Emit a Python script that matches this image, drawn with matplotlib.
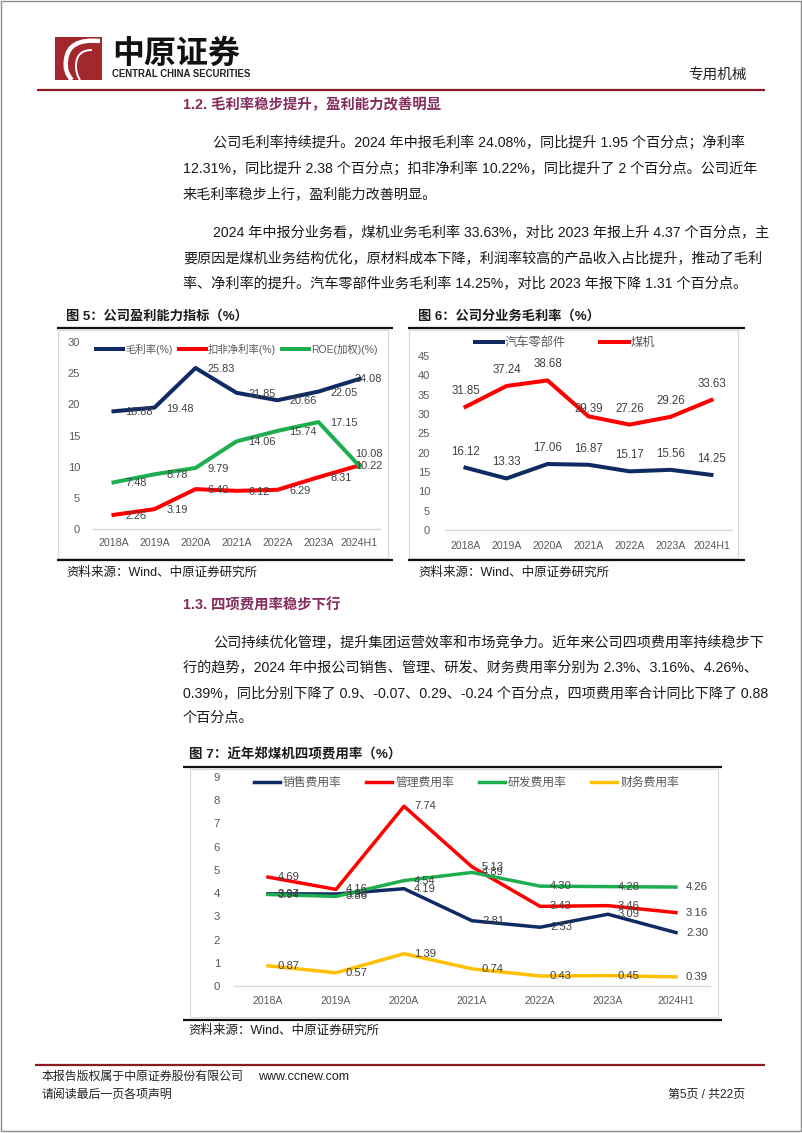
import matplotlib
matplotlib.use('Agg')
import matplotlib.pyplot as plt
from matplotlib.lines import Line2D
from matplotlib.patches import Rectangle, PathPatch
from matplotlib.path import Path

# ---------------- data ----------------
years = ['2018A', '2019A', '2020A', '2021A', '2022A', '2023A', '2024H1']

# Fig 5
gross_margin = [18.88, 19.48, 25.83, 21.85, 20.66, 22.05, 24.08]
net_margin_adj = [2.26, 3.19, 6.40, 6.12, 6.29, 8.31, 10.22]
roe_weighted = [7.48, 8.78, 9.79, 14.06, 15.74, 17.15, 10.08]
fig5_names = ['毛利率(%)', '扣非净利率(%)', 'ROE(加权)(%)']
fig5_yticks = [0, 5, 10, 15, 20, 25, 30]

# Fig 6
auto_parts_margin = [16.12, 13.33, 17.06, 16.87, 15.17, 15.56, 14.25]
coal_machine_margin = [31.85, 37.24, 38.68, 29.39, 27.26, 29.26, 33.63]
fig6_names = ['汽车零部件', '煤机']
fig6_yticks = [0, 5, 10, 15, 20, 25, 30, 35, 40, 45]

# Fig 7
selling_rate = [3.97, 3.96, 4.19, 2.81, 2.53, 3.09, 2.30]
admin_rate = [4.69, 4.16, 7.74, 5.13, 3.43, 3.46, 3.16]
rd_rate = [3.94, 3.86, 4.54, 4.89, 4.30, 4.28, 4.26]
finance_rate = [0.87, 0.57, 1.39, 0.74, 0.43, 0.45, 0.39]
fig7_names = ['销售费用率', '管理费用率', '研发费用率', '财务费用率']
fig7_yticks = [0, 1, 2, 3, 4, 5, 6, 7, 8, 9]

# ---------------- style ----------------
NAVY = '#102A63'
RED = '#FF0000'
GREEN = '#1EAE50'
YELLOW = '#FFC000'
TICK = '#595959'
LABEL = '#404040'
HEAD = '#862D5E'
BODY = '#1A1A1A'
FONT = ['Liberation Sans', 'Noto Sans CJK SC', 'DejaVu Sans']
plt.rcParams['font.family'] = FONT

W, H = 802, 1133
fig = plt.figure(figsize=(W / 100, H / 100), dpi=100)


def fx(x):
    return x / W


def fy(y):
    return 1 - y / H


def txt(x, y, s, size, color=BODY, weight='normal', ha='left', va='center'):
    fig.text(fx(x), fy(y), s, fontsize=size, color=color, fontweight=weight,
             ha=ha, va=va, family=FONT)


def hline(x0, x1, y, color, lw):
    fig.add_artist(Line2D([fx(x0), fx(x1)], [fy(y), fy(y)], color=color, lw=lw,
                          transform=fig.transFigure, solid_capstyle='butt'))


def frame(x0, x1, y0, y1, color='#D9D9D9', lw=0.8):
    fig.add_artist(Rectangle((fx(x0), fy(y1)), (x1 - x0) / W, (y1 - y0) / H,
                             transform=fig.transFigure, fill=False,
                             edgecolor=color, lw=lw))


def make_axes(x0, x1, ytop, ybot):
    return fig.add_axes([fx(x0), fy(ybot), (x1 - x0) / W, (ybot - ytop) / H])


def style_axes(ax, yticks, ypad, xpad, xsize, ysize):
    ax.set_xlim(-0.5, len(years) - 0.5)
    ax.set_ylim(yticks[0], yticks[-1])
    ax.set_xticks(range(len(years)))
    ax.set_xticklabels(years)
    ax.set_yticks(yticks)
    ax.set_yticklabels([str(t) for t in yticks])
    ax.tick_params(length=0, labelcolor=TICK)
    ax.tick_params(axis='x', pad=xpad * 0.72, labelsize=xsize)
    ax.tick_params(axis='y', pad=ypad * 0.72, labelsize=ysize)
    for s in ['top', 'right', 'left']:
        ax.spines[s].set_visible(False)
    ax.spines['bottom'].set_color('#D9D9D9')
    ax.spines['bottom'].set_linewidth(1.0)
    ax.patch.set_alpha(0)


# ---------------- page frame & header ----------------
fig.add_artist(Rectangle((fx(1), fy(1131)), 800 / W, 1130 / H, transform=fig.transFigure,
                         fill=False, edgecolor='#8C8C8C', lw=1.0))

# logo
fig.add_artist(Rectangle((fx(55), fy(80)), 47 / W, 43 / H, transform=fig.transFigure,
                         facecolor='#A3282E', edgecolor='none'))
sw1 = Path([(fx(100), fy(41)), (fx(68), fy(38)), (fx(66), fy(60)), (fx(64), fy(72)), (fx(72), fy(80))],
           [Path.MOVETO, Path.CURVE3, Path.CURVE3, Path.CURVE3, Path.CURVE3])
fig.add_artist(PathPatch(sw1, transform=fig.transFigure, fill=False, edgecolor='white', lw=3.2))
sw2 = Path([(fx(92), fy(50)), (fx(76), fy(50)), (fx(76), fy(66)), (fx(76), fy(74)), (fx(80), fy(80))],
           [Path.MOVETO, Path.CURVE3, Path.CURVE3, Path.CURVE3, Path.CURVE3])
fig.add_artist(PathPatch(sw2, transform=fig.transFigure, fill=False, edgecolor='white', lw=1.4))

txt(112, 55, '中原证券', 23, color='#111111', weight='bold')
txt(112, 74, 'CENTRAL CHINA SECURITIES', 6.9, color='#222222', weight='bold')
txt(747, 75, '专用机械', 10.5, color='#222222', ha='right')
hline(37, 765, 90, '#8B1A22', 1.6)

# ---------------- section 1.2 ----------------
txt(183, 105, '1.2. 毛利率稳步提升，盈利能力改善明显', 10.4, color=HEAD, weight='bold')
p1 = [
    (213, 143, '公司毛利率持续提升。2024 年中报毛利率 24.08%，同比提升 1.95 个百分点；净利率'),
    (183, 169, '12.31%，同比提升 2.38 个百分点；扣非净利率 10.22%，同比提升了 2 个百分点。公司近年'),
    (183, 195, '来毛利率稳步上行，盈利能力改善明显。'),
    (213, 233, '2024 年中报分业务看，煤机业务毛利率 33.63%，对比 2023 年报上升 4.37 个百分点，主'),
    (183, 259, '要原因是煤机业务结构优化，原材料成本下降，利润率较高的产品收入占比提升，推动了毛利'),
    (183, 284, '率、净利率的提升。汽车零部件业务毛利率 14.25%，对比 2023 年报下降 1.31 个百分点。'),
]
for x, y, s in p1:
    txt(x, y, s, 10.2)

# ---------------- Fig 5 ----------------
txt(66, 316, '图 5：公司盈利能力指标（%）', 9.5, weight='bold')
hline(57, 393, 328, '#111111', 1.6)
hline(57, 393, 560, '#111111', 1.6)
frame(58, 388, 330, 558)
txt(66, 573, '资料来源：Wind、中原证券研究所', 9)

ax1 = make_axes(93, 380, 342, 529)
style_axes(ax1, fig5_yticks, 13, 9, 7.7, 8)
xs = list(range(len(years)))
h5 = []
for vals, col in [(gross_margin, NAVY), (net_margin_adj, RED), (roe_weighted, GREEN)]:
    ln, = ax1.plot(xs, vals, color=col, lw=2.9, clip_on=False, solid_joinstyle='round')
    h5.append(ln)
last_dy5 = [0, -1, 12]
for k, vals in enumerate([gross_margin, net_margin_adj, roe_weighted]):
    for i, v in enumerate(vals):
        if i == len(vals) - 1:
            ax1.annotate(f'{v:.2f}', (i, v), xytext=(9, last_dy5[k]), textcoords='offset pixels',
                         ha='center', va='center', fontsize=7.9, color=LABEL, annotation_clip=False)
        else:
            ax1.annotate(f'{v:.2f}', (i, v), xytext=(12, -1), textcoords='offset pixels',
                         ha='left', va='center', fontsize=7.9, color=LABEL, annotation_clip=False)
ax1.legend(h5, fig5_names, ncol=3, loc='center left', bbox_to_anchor=(fx(96), fy(349)),
           bbox_transform=fig.transFigure, frameon=False, fontsize=7.5, handlelength=2.6,
           handletextpad=0.2, columnspacing=0.6, borderpad=0, borderaxespad=0,
           labelcolor=TICK)

# ---------------- Fig 6 ----------------
txt(418, 316, '图 6：公司分业务毛利率（%）', 9.5, weight='bold')
hline(408, 745, 328, '#111111', 1.6)
hline(408, 745, 560, '#111111', 1.6)
frame(409, 738, 330, 558)
txt(418, 573, '资料来源：Wind、中原证券研究所', 9)

ax2 = make_axes(445, 732, 356, 530)
style_axes(ax2, fig6_yticks, 15, 11, 7.6, 8)
h6 = []
for vals, col in [(auto_parts_margin, NAVY), (coal_machine_margin, RED)]:
    ln, = ax2.plot(xs, vals, color=col, lw=2.9, clip_on=False, solid_joinstyle='round')
    h6.append(ln)
for vals in [auto_parts_margin, coal_machine_margin]:
    for i, v in enumerate(vals):
        dy = 7 if v == 29.39 else 16
        ax2.annotate(f'{v:.2f}', (i, v), xytext=(0, dy), textcoords='offset pixels',
                     ha='center', va='center', fontsize=8.3, color=LABEL, annotation_clip=False)
ax2.legend(h6, fig6_names, ncol=2, loc='center left', bbox_to_anchor=(fx(475), fy(343)),
           bbox_transform=fig.transFigure, frameon=False, fontsize=8.8, handlelength=2.3,
           handletextpad=0.15, columnspacing=2.8, borderpad=0, borderaxespad=0,
           labelcolor=TICK)

# ---------------- section 1.3 ----------------
txt(183, 606, '1.3. 四项费用率稳步下行', 10.4, color=HEAD, weight='bold')
p2 = [
    (213, 643, '公司持续优化管理，提升集团运营效率和市场竞争力。近年来公司四项费用率持续稳步下'),
    (183, 668, '行的趋势，2024 年中报公司销售、管理、研发、财务费用率分别为 2.3%、3.16%、4.26%、'),
    (183, 694, '0.39%，同比分别下降了 0.9、-0.07、0.29、-0.24 个百分点，四项费用率合计同比下降了 0.88'),
    (183, 718, '个百分点。'),
]
for x, y, s in p2:
    txt(x, y, s, 10.2)

# ---------------- Fig 7 ----------------
txt(189, 755, '图 7：近年郑煤机四项费用率（%）', 9.7, weight='bold')
hline(183, 722, 767, '#111111', 1.6)
hline(183, 722, 1020, '#111111', 1.6)
frame(190, 718, 769, 1017)
txt(188, 1031, '资料来源：Wind、中原证券研究所', 9)

ax3 = make_axes(234, 710, 777, 986)
style_axes(ax3, fig7_yticks, 14, 10, 7.6, 8.2)
h7 = []
for vals, col in [(selling_rate, NAVY), (admin_rate, RED), (rd_rate, GREEN), (finance_rate, YELLOW)]:
    ln, = ax3.plot(xs, vals, color=col, lw=2.5, clip_on=False, solid_joinstyle='round')
    h7.append(ln)
for vals in [selling_rate, admin_rate, rd_rate, finance_rate]:
    for i, v in enumerate(vals):
        ax3.annotate(f'{v:.2f}', (i, v), xytext=(10, 0), textcoords='offset pixels',
                     ha='left', va='center', fontsize=8.1, color=LABEL, annotation_clip=False)
ax3.legend(h7, fig7_names, ncol=4, loc='center left', bbox_to_anchor=(fx(254), fy(783)),
           bbox_transform=fig.transFigure, frameon=False, fontsize=8.5, handlelength=2.2,
           handletextpad=0.25, columnspacing=2.1, borderpad=0, borderaxespad=0,
           labelcolor=TICK)

# ---------------- footer ----------------
hline(35, 765, 1065, '#8B1A22', 1.6)
txt(42, 1077, '本报告版权属于中原证券股份有限公司', 8.6, color='#222222')
txt(258, 1077, 'www.ccnew.com', 9, color='#222222')
txt(42, 1095, '请阅读最后一页各项声明', 8.6, color='#222222')
txt(745, 1095, '第5页 / 共22页', 8.6, color='#222222', ha='right')

fig.savefig('out.png', dpi=100)
